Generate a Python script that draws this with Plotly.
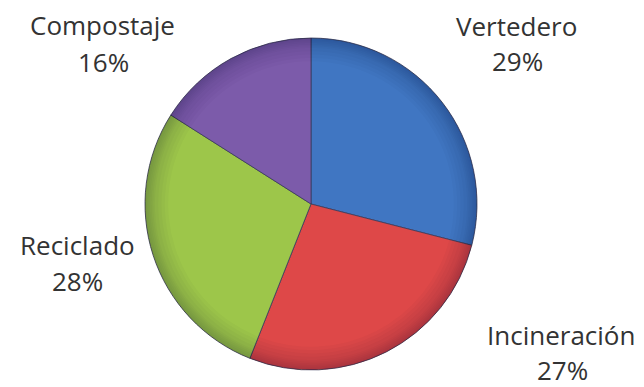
import plotly.graph_objects as go

# Waste treatment shares
categories = ["Vertedero", "Incineración", "Reciclado", "Compostaje"]
shares = [29, 27, 28, 16]
colors = ["#4076C2", "#DE4848", "#9DC64A", "#7C5BAA"]

# label anchor positions in pixels (name line, percent line)
label_px = {
    "Vertedero": ((516, 26), (517, 61)),
    "Incineración": ((561, 335), (562, 370)),
    "Reciclado": ((77, 245), (77, 281)),
    "Compostaje": ((102, 25), (103, 62)),
}

W, H = 644, 387
pie_domain = dict(x=[145 / W, 477 / W], y=[17 / H, 349 / H])

fig = go.Figure()
fig.add_trace(go.Pie(
    labels=categories,
    values=shares,
    sort=False,
    direction="clockwise",
    rotation=0,
    textinfo="none",
    hoverinfo="label+percent",
    marker=dict(colors=colors, line=dict(color="#3a3a5a", width=0.8)),
    domain=pie_domain,
    showlegend=False,
))

# stacked thin translucent rings darken the rim gradually (bevel effect)
rim_holes = [0.86, 0.88, 0.90, 0.92, 0.94, 0.95, 0.96, 0.97, 0.98, 0.99]
for hole in rim_holes:
    fig.add_trace(go.Pie(
        labels=categories,
        values=shares,
        sort=False,
        direction="clockwise",
        rotation=0,
        hole=hole,
        textinfo="none",
        hoverinfo="skip",
        marker=dict(colors=["rgba(0,0,30,0.025)"] * len(shares),
                    line=dict(width=0)),
        domain=pie_domain,
        showlegend=False,
    ))

font = dict(family="Open Sans, sans-serif", size=26, color="#333333")
total = sum(shares)
for cat, val in zip(categories, shares):
    (nx, ny), (px, py) = label_px[cat]
    fig.add_annotation(x=nx / W, y=1 - ny / H, xref="paper", yref="paper",
                       text=cat, showarrow=False, font=font,
                       xanchor="center", yanchor="middle", borderpad=0)
    fig.add_annotation(x=px / W, y=1 - py / H, xref="paper", yref="paper",
                       text=f"{round(val / total * 100)}%", showarrow=False,
                       font=font, xanchor="center", yanchor="middle",
                       borderpad=0)

fig.update_layout(
    width=W, height=H,
    margin=dict(l=0, r=0, t=0, b=0),
    paper_bgcolor="white",
    plot_bgcolor="white",
)

fig.write_html("out.html")
